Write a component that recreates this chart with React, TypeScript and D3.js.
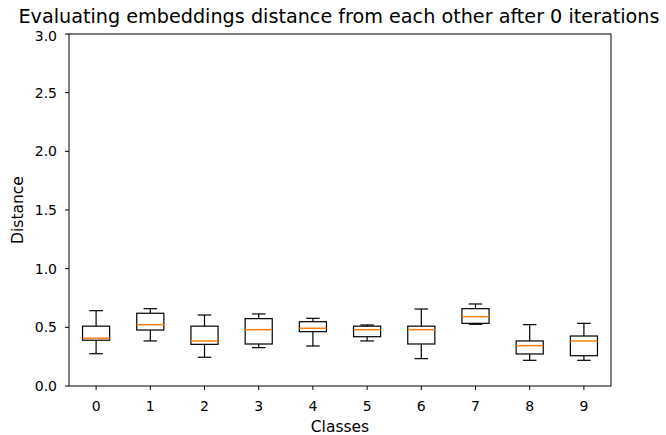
import * as d3 from 'd3'

// Box stats per class
const CLASSES = ['0', '1', '2', '3', '4', '5', '6', '7', '8', '9']
const WHISK_LO = [0.275, 0.384, 0.245, 0.327, 0.341, 0.384, 0.233, 0.526, 0.219, 0.219]
const Q1 = [0.39, 0.477, 0.355, 0.358, 0.463, 0.42, 0.358, 0.534, 0.273, 0.258]
const MEDIAN = [0.407, 0.523, 0.384, 0.48, 0.492, 0.48, 0.48, 0.591, 0.344, 0.384]
const Q3 = [0.51, 0.62, 0.51, 0.574, 0.548, 0.51, 0.51, 0.659, 0.384, 0.426]
const WHISK_HI = [0.642, 0.659, 0.605, 0.614, 0.577, 0.52, 0.656, 0.699, 0.523, 0.534]
const Y_TICKS = [0, 0.5, 1, 1.5, 2, 2.5, 3]

const W = 666
const H = 435
const margin = { top: 34, right: 55, bottom: 49, left: 69 }
const FONT = 'DejaVu Sans, sans-serif'

export default function App() {
  const innerW = W - margin.left - margin.right
  const innerH = H - margin.top - margin.bottom

  const x = d3.scaleLinear().domain([0.5, 10.5]).range([0, innerW])
  const y = d3.scaleLinear().domain([0, 3]).range([innerH, 0])
  const boxW = x(1.5) - x(1)
  const capW = boxW / 2

  return (
    <div style={{ position: 'absolute', left: 0, top: 0 }}>
      <svg width={W} height={H} style={{ display: 'block', background: '#fff' }} fontFamily={FONT}>
        <text x={margin.left + innerW / 2 - 1} y={23} textAnchor="middle" fontSize={19.2} fill="#000">
          Evaluating embeddings distance from each other after 0 iterations
        </text>
        <g transform={`translate(${margin.left},${margin.top})`}>
          {CLASSES.map((c, i) => {
            const cx = x(i + 1)
            return (
              <g key={c} stroke="#000" strokeWidth={1.2} fill="none">
                <line x1={cx} x2={cx} y1={y(Q3[i])} y2={y(WHISK_HI[i])} />
                <line x1={cx} x2={cx} y1={y(Q1[i])} y2={y(WHISK_LO[i])} />
                <line x1={cx - capW / 2} x2={cx + capW / 2} y1={y(WHISK_HI[i])} y2={y(WHISK_HI[i])} />
                <line x1={cx - capW / 2} x2={cx + capW / 2} y1={y(WHISK_LO[i])} y2={y(WHISK_LO[i])} />
                <rect x={cx - boxW / 2} y={y(Q3[i])} width={boxW} height={y(Q1[i]) - y(Q3[i])} />
                <line
                  x1={cx - boxW / 2}
                  x2={cx + boxW / 2}
                  y1={y(MEDIAN[i])}
                  y2={y(MEDIAN[i])}
                  stroke="#ff7f0e"
                  strokeWidth={1.5}
                />
              </g>
            )
          })}

          {/* frame */}
          <rect x={0} y={0} width={innerW} height={innerH} fill="none" stroke="#000" strokeWidth={1} />

          {/* y ticks */}
          {Y_TICKS.map(t => (
            <g key={t} transform={`translate(0,${y(t)})`}>
              <line x1={-4} x2={0} stroke="#000" strokeWidth={1} />
              <text x={-12} dy={t === 3 ? '0.5em' : '0.36em'} textAnchor="end" fontSize={14} fill="#000">
                {d3.format('.1f')(t)}
              </text>
            </g>
          ))}

          {/* x ticks */}
          {CLASSES.map((c, i) => (
            <g key={c} transform={`translate(${x(i + 1)},${innerH})`}>
              <line y1={0} y2={4} stroke="#000" strokeWidth={1} />
              <text y={25} textAnchor="middle" fontSize={14} fill="#000">
                {c}
              </text>
            </g>
          ))}

          <text x={innerW / 2} y={innerH + 46} textAnchor="middle" fontSize={15.5} fill="#000">
            Classes
          </text>
          <text
            transform={`translate(${-46},${innerH / 2}) rotate(-90)`}
            textAnchor="middle"
            fontSize={15.5}
            fill="#000"
          >
            Distance
          </text>
        </g>
      </svg>
    </div>
  )
}
